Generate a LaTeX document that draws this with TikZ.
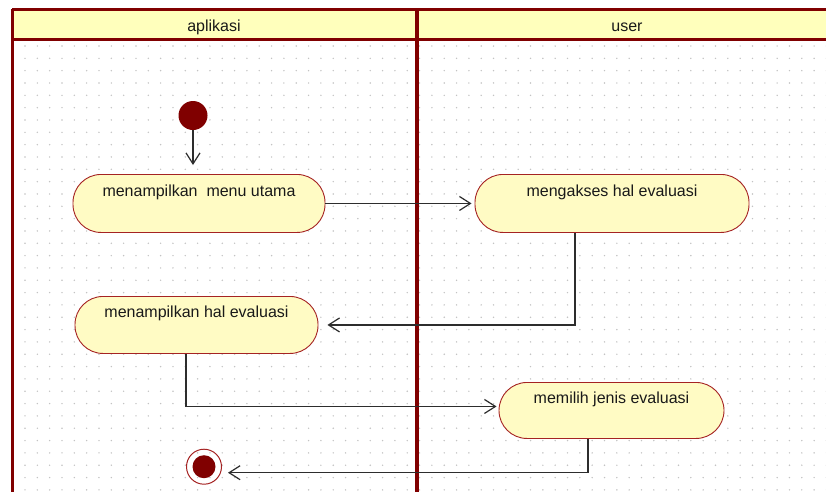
\documentclass[tikz,border=0pt]{standalone}
\usepackage{fontspec}
\setmainfont{Liberation Sans}
\usetikzlibrary{arrows.meta}
\definecolor{dred}{RGB}{128,0,0}
\definecolor{hdrfill}{RGB}{255,255,188}
\definecolor{actfill}{RGB}{255,251,196}
\definecolor{actborder}{RGB}{165,35,35}
\definecolor{dotc}{RGB}{195,195,195}
\definecolor{linec}{RGB}{45,45,45}
\tikzset{
  act/.style={draw=actborder, fill=actfill, line width=0.9pt, rounded corners=28pt,
    inner xsep=0pt, inner ysep=0pt, anchor=north, text=black!90,
    font=\fontsize{16}{19}\selectfont},
  lanetitle/.style={font=\fontsize{16}{19}\selectfont, text=black!90, anchor=base},
  conn/.style={draw=linec, line width=1.2pt, -{Straight Barb[length=11pt,width=14pt,line width=1.2pt]}},
  frame/.style={draw=dred, line width=3pt},
}
\begin{document}
\begin{tikzpicture}[x=1pt,y=-1pt]
\useasboundingbox (0,0) rectangle (826,491);
\clip (0,0) rectangle (826,491);
\fill[white] (0,0) rectangle (826,491);
% grid dots
\foreach \i in {0,...,66} {
  \foreach \j in {0,...,36} {
    \fill[dotc] (25+12.33*\i, 46+12.33*\j) circle (0.8pt);
  }
}
% header
\fill[hdrfill] (12,9) rectangle (840,39.5);
\node[lanetitle] (t1) at (214,31) {aplikasi};
\node[lanetitle] (t2) at (627,31) {user};
\draw[frame] (12,9) -- (840,9);
\draw[frame] (12,39.5) -- (840,39.5);
\draw[frame] (12,9) -- (12,495);
\draw[draw=dred, line width=4.5pt] (417,9) -- (417,495);
% nodes
\node[circle, fill=dred, minimum size=29pt, inner sep=0pt] (init) at (193,115.5) {};
\node[act, minimum width=252pt, text height=22pt, text depth=36pt] (a1) at (199,174) {menampilkan\ \ menu utama};
\node[act, minimum width=274pt, text height=22pt, text depth=36pt] (a3) at (612,174) {mengakses hal evaluasi};
\node[act, minimum width=243pt, text height=21pt, text depth=36pt] (a2) at (196.5,296) {menampilkan hal evaluasi};
\node[act, minimum width=225pt, text height=21pt, text depth=35pt] (a4) at (611.5,382) {memilih jenis evaluasi};
\node[circle, draw=actborder, line width=1pt, minimum size=35pt, inner sep=0pt] (fin) at (204,466.7) {};
\node[circle, fill=dred, minimum size=23pt, inner sep=0pt] (finin) at (fin.center) {};
% connector helpers
\coordinate (c3) at (575,0);
\coordinate (c2) at (186,0);
\coordinate (c4) at (588,0);
% connectors
\draw[conn, shorten >=9pt] (init.south) -- (init.south |- a1.north);
\draw[conn, shorten >=3pt] (a1.east) -- (a3.west);
\draw[conn] (a3.south -| c3) |- ([xshift=9pt]a2.east);
\draw[conn] (a2.south -| c2) |- ([xshift=-2pt,yshift=4pt]a4.west);
\draw[conn] (a4.south -| c4) |- ([xshift=6pt,yshift=-6pt]fin.east);
\end{tikzpicture}
\end{document}
